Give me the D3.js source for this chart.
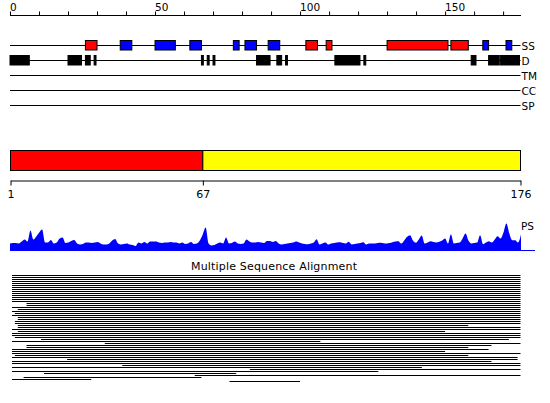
<!DOCTYPE html>
<html><head><meta charset="utf-8">
<script src="https://cdn.jsdelivr.net/npm/d3@7"></script>
<style>body{margin:0;background:#fff}svg{display:block}text{font-family:"DejaVu Sans",sans-serif}</style>
</head><body>
<script>
const seqLength = 176;
const topTicks = [0,10,20,30,40,50,60,70,80,90,100,110,120,130,140,150,160,170];
const topTickLabels = [0,50,100,150];
const trackNames = ["SS","D","TM","CC","SP"];
// secondary structure: [start, end, type] (H = helix red, E = strand blue)
const ssSegments = [[27,30,"H"],[39,42,"E"],[51,57,"E"],[63,66,"E"],[78,79,"E"],[82,85,"E"],[90,93,"E"],
  [103,106,"H"],[110,111,"H"],[131,151,"H"],[153,158,"H"],[164,165,"E"],[172,173,"E"]];
// disorder segments
const disorderSegments = [[1,7],[21,25],[27,28],[30,30],[67,67],[69,69],[71,71],[86,90],[93,94],[96,96],
  [113,121],[123,123],[160,161],[166,169],[170,176]];
// domains
const domains = [[1,67,"red"],[67,176,"yellow"]];
const domainTicks = [1,67,176];
// PS profile (one value per residue)
const psValues = [7,7.5,7.5,7,9,11,9,20,11,14,18,21,8,8,10.5,7,8,12,13,7.5,
  8,9.5,10.5,7,6,6.5,8,8,7.5,8,8.5,7,6,6,7,10,11.5,7,6,6.5,
  7,6,5.5,4.5,8,7,8.5,7,9,9,9,8,7.5,8,8,8.5,8,8,7,8,
  6.5,7,8.5,6.5,7,10,16,23,7,5,5.5,7,8,7,13,7,7.5,9,7,6.5,
  7,11,9,8,8,8.5,8,7.5,9.5,9.5,8.5,9.5,7,6,6.5,7,7.5,8,9,8,
  7,6.5,6.3,7,8,11.3,6,7,8,6,7,7.5,8,8.3,7.5,7,8.7,6,6.5,7,
  7.5,8.3,6,7,7,7,7.5,7.7,7.3,7,7.5,8.3,9,9.3,7,10,13.7,15.3,10,7.7,
  11,15,7,8,9.3,8.5,8,8.7,10,12,7,16.3,7,7.5,8,12,17,10,7,7.5,
  8,15.3,6.3,8,9.3,8,11,14.3,12,18,27,17,10.3,10.3,8,16];
// multiple sequence alignment rows: [start, end]
const msaRows = [[1,176],[1,176],[1,176],[1,176],[1,176],[1,176],[1,176],[1,176],[1,176],[1,176],
  [1,176],[1,176],[1,176],[1,176],[6,176],[6,176],[1,176],[3,176],[1,176],[2,176],
  [1,176],[3,176],[3,176],[2,176],[2,176],[3,158],[3,176],[1,176],[3,150],[1,176],
  [1,176],[2,176],[11,172],[1,107],[33,176],[6,166],[6,158],[1,165],[1,150],[1,176],
  [2,158],[1,175],[20,175],[1,166],[1,176],[39,176],[1,142],[83,176],[1,127],[12,78],
  [64,176],[5,66],[1,28],[76,100]];

const W = 550, H = 403;
const svg = d3.select("body").append("svg").attr("width", W).attr("height", H);
const xs = d3.scaleLinear().domain([0, seqLength]).range([10, 520.5]);

// top axis
const topAxis = d3.axisTop(xs).tickValues(topTicks).tickSize(4).tickFormat("");
const gTop = svg.append("g").attr("transform", "translate(0,15.5)").call(topAxis);
gTop.select(".domain").attr("d", `M${xs(0)},0H${xs(seqLength)+0.5}`);
gTop.selectAll("line,path").attr("stroke", "#000");
svg.append("g").selectAll("text").data(topTickLabels).join("text")
  .attr("x", d => xs(d)).attr("y", 10.5).attr("font-size", 10.5).attr("fill", "#000").text(d => d);

// tracks
const trackY = d3.scalePoint().domain(trackNames).range([45.5, 105.5]);
svg.append("g").selectAll("line").data(trackNames).join("line")
  .attr("x1", xs(0)).attr("x2", xs(seqLength)).attr("y1", d => trackY(d)).attr("y2", d => trackY(d))
  .attr("stroke", "#000");
svg.append("g").selectAll("text").data(trackNames).join("text")
  .attr("x", xs(seqLength) + 1).attr("y", d => trackY(d) + 4).attr("font-size", 10.5).attr("fill", "#000").text(d => d);

const ssColor = {H: "#ff0000", E: "#0000ff"};
svg.append("g").selectAll("rect").data(ssSegments).join("rect")
  .attr("x", d => xs(d[0]-1)).attr("width", d => xs(d[1]) - xs(d[0]-1))
  .attr("y", trackY("SS") - 5).attr("height", 9.5)
  .attr("fill", d => ssColor[d[2]]).attr("stroke", "#000");
svg.append("g").selectAll("rect").data(disorderSegments).join("rect")
  .attr("x", d => xs(d[0]-1)).attr("width", d => xs(d[1]) - xs(d[0]-1) - 1)
  .attr("y", trackY("D") - 5).attr("height", 9.5)
  .attr("fill", "#000").attr("stroke", "#000");

// domains
const xd = d3.scaleLinear().domain([1, seqLength]).range([10.5, 520.5]);
svg.append("g").selectAll("rect").data(domains).join("rect")
  .attr("x", d => xd(d[0])).attr("width", d => xd(d[1]) - xd(d[0]))
  .attr("y", 150.5).attr("height", 20)
  .attr("fill", d => d[2] === "red" ? "#ff0000" : "#ffff00").attr("stroke", "#000");
const dAxis = d3.axisBottom(xd).tickValues(domainTicks).tickSize(5).tickSizeOuter(0).tickPadding(5);
const gD = svg.append("g").attr("transform", "translate(0,180.5)").call(dAxis);
gD.selectAll("line,path").attr("stroke", "#000");
gD.selectAll("text").attr("font-size", 11).attr("font-family", "DejaVu Sans").attr("fill", "#000");

// PS profile
const xp = d3.scaleLinear().domain([0, psValues.length - 1]).range([10, 521]);
const yp = d3.scaleLinear().domain([0, 30]).range([250.5, 220.5]);
const area = d3.area().x((d, i) => xp(i)).y0(yp(0)).y1(d => yp(d)).curve(d3.curveMonotoneX);
svg.append("path").datum(psValues).attr("d", area).attr("fill", "#0000ff");
svg.append("line").attr("x1", 10).attr("x2", 535).attr("y1", yp(0)).attr("y2", yp(0)).attr("stroke", "#0000ff");
svg.append("text").attr("x", 521).attr("y", 230).attr("font-size", 10.5).attr("fill", "#000").text("PS");

// MSA
svg.append("text").attr("x", 274).attr("y", 270).attr("text-anchor", "middle")
  .attr("font-size", 11).attr("textLength", 166).attr("lengthAdjust", "spacing").attr("fill", "#000")
  .text("Multiple Sequence Alignment");
const ym = d3.scaleLinear().domain([0, msaRows.length - 1]).range([275.5, 275.5 + 2 * (msaRows.length - 1)]);
svg.append("g").selectAll("line").data(msaRows).join("line")
  .attr("x1", d => xs(d[0]-1) + 2).attr("x2", d => xs(d[1]))
  .attr("y1", (d, i) => ym(i)).attr("y2", (d, i) => ym(i)).attr("stroke", "#000");
</script>
</body></html>
